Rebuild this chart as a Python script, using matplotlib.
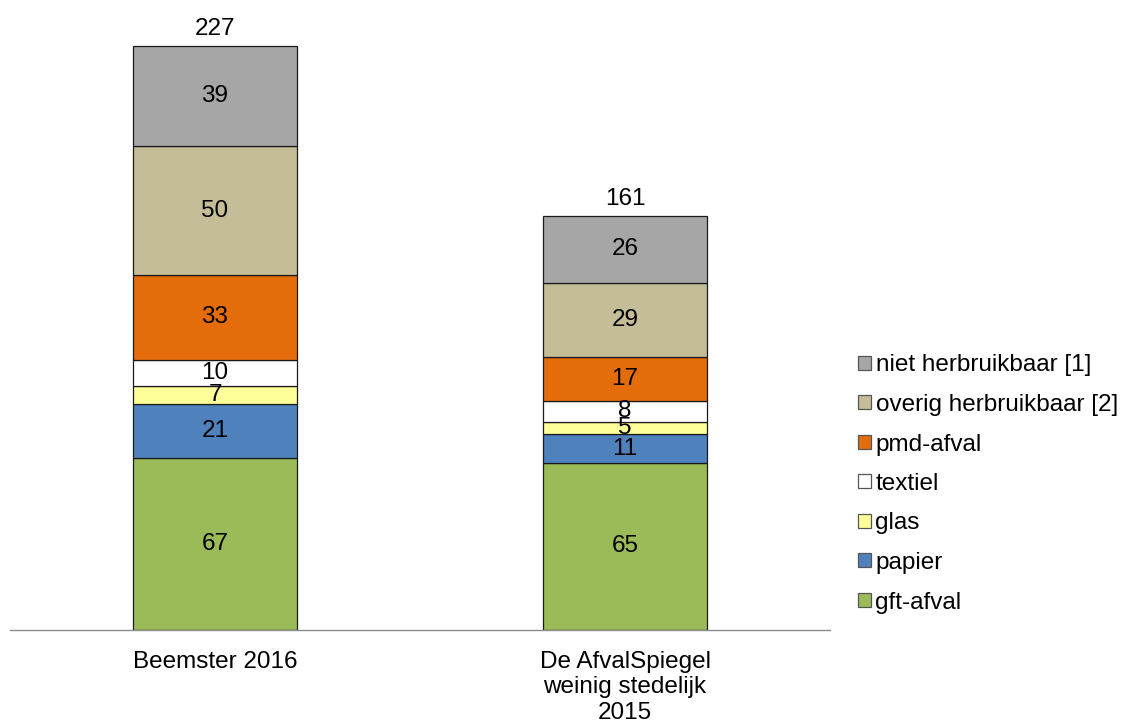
import matplotlib

matplotlib.use("Agg")

import matplotlib.pyplot as plt

plt.rcParams.update(
    {
        "font.family": ["Liberation Sans", "DejaVu Sans"],
        "font.size": 17.5,
    }
)

# Data (bottom -> top of each stack)
CATEGORIES = ["Beemster 2016", "De AfvalSpiegel\nweinig stedelijk\n2015"]
FRACTIONS = [
    "gft-afval",
    "papier",
    "glas",
    "textiel",
    "pmd-afval",
    "overig herbruikbaar [2]",
    "niet herbruikbaar [1]",
]
BEEMSTER = [67, 21, 7, 10, 33, 50, 39]
AFVALSPIEGEL = [65, 11, 5, 8, 17, 29, 26]
TOTALS = [227, 161]

COLORS = ["#9BBB59", "#4F81BD", "#FFFF99", "#FFFFFF", "#E46C0A", "#C4BD97", "#A6A6A6"]

fig = plt.figure(figsize=(11.26, 7.27), dpi=100)
ax = fig.add_axes([10 / 1126, 1 - 630 / 727, 820 / 1126, 620 / 727])

xs = list(range(len(CATEGORIES)))
series = list(zip(BEEMSTER, AFVALSPIEGEL))
bottoms = [0] * len(xs)
handles = []
for name, vals, color in zip(FRACTIONS, series, COLORS):
    bars = ax.bar(xs, vals, width=0.4, bottom=bottoms, color=color,
                  edgecolor="#1a1a1a", linewidth=0.9, label=name)
    handles.append(bars)
    for x, v, b in zip(xs, vals, bottoms):
        ax.text(x, b + v / 2, str(v), ha="center", va="center")
    bottoms = [b + v for b, v in zip(bottoms, vals)]

for x, t in zip(xs, TOTALS):
    ax.annotate(str(t), (x, t), xytext=(0, 4), textcoords="offset points",
                ha="center", va="bottom")

ax.set_xlim(-0.5, 1.5)
ax.set_ylim(0, 241)
ax.set_xticks(xs)
ax.set_xticklabels(CATEGORIES)
ax.tick_params(axis="x", length=0, pad=15)
ax.set_yticks([])
for side in ["top", "right", "left"]:
    ax.spines[side].set_visible(False)
ax.spines["bottom"].set_color("#8c8c8c")
ax.spines["bottom"].set_linewidth(1.0)

leg = fig.legend(handles[::-1], FRACTIONS[::-1], loc="center left",
                 bbox_to_anchor=(858 / 1126, 1 - 484 / 727), frameon=False,
                 borderpad=0, borderaxespad=0, handlelength=0.52,
                 handleheight=0.52, handletextpad=0.2, labelspacing=0.72)
for h in leg.legend_handles:
    h.set_edgecolor("#555555")
    h.set_linewidth(0.9)

fig.savefig("out.png", dpi=100)
